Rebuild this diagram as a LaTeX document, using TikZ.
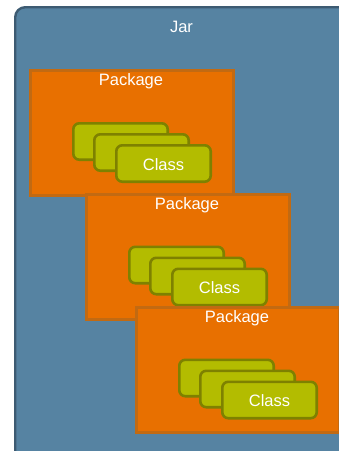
\documentclass[tikz,border=0pt]{standalone}
\usepackage{fontspec}
\setmainfont{Liberation Sans}
\definecolor{jarfill}{HTML}{5683A2}
\definecolor{jarline}{HTML}{3D5B72}
\definecolor{pkgfill}{HTML}{E87000}
\definecolor{pkgline}{HTML}{C26A12}
\definecolor{clsfill}{HTML}{B3BC00}
\definecolor{clsline}{HTML}{7E8100}
\tikzset{
  jarbox/.style={draw=jarline, fill=jarfill, line width=2.4pt, rounded corners=10pt},
  pkgbox/.style={draw=pkgline, fill=pkgfill, line width=3pt, anchor=north west, outer sep=0pt,
    minimum width=203pt, minimum height=125pt, inner sep=0pt},
  clsbox/.style={draw=clsline, fill=clsfill, line width=2.6pt, rounded corners=6pt, outer sep=0pt,
    anchor=north west, minimum width=94.4pt, minimum height=36.4pt, inner sep=0pt},
  lbl/.style={text=white, font=\fontsize{16.5}{18}\selectfont, inner sep=0pt},
}
\begin{document}
\begin{tikzpicture}[x=1pt,y=-1pt]
\useasboundingbox (0,0) rectangle (339,451);
\fill[white] (0,0) rectangle (339,451);
\begin{scope}
\clip (0,0) rectangle (339,451);
\draw[jarbox] (15.2,7.2) rectangle (380,500);
\node[lbl] (jar) at (181.5,27) {Jar};
\foreach \i/\x/\y in {1/30.5/70.5, 2/86.5/194, 3/136.5/307} {
  \node[pkgbox] (pkg\i) at (\x,\y) {};
  \node[lbl] (pkglbl\i) at ([xshift=-1pt,yshift=-11pt]pkg\i.north) {Package};
  \node[clsbox] (clsa\i) at ([shift={(42.8,52.8)}]pkg\i.north west) {};
  \node[clsbox] (clsb\i) at ([shift={(63.8,63.8)}]pkg\i.north west) {};
  \node[clsbox] (clsc\i) at ([shift={(85.8,74.8)}]pkg\i.north west) {};
  \node[lbl] (clslbl\i) at ([yshift=-1pt]clsc\i.center) {Class};
}
\end{scope}
\end{tikzpicture}
\end{document}
